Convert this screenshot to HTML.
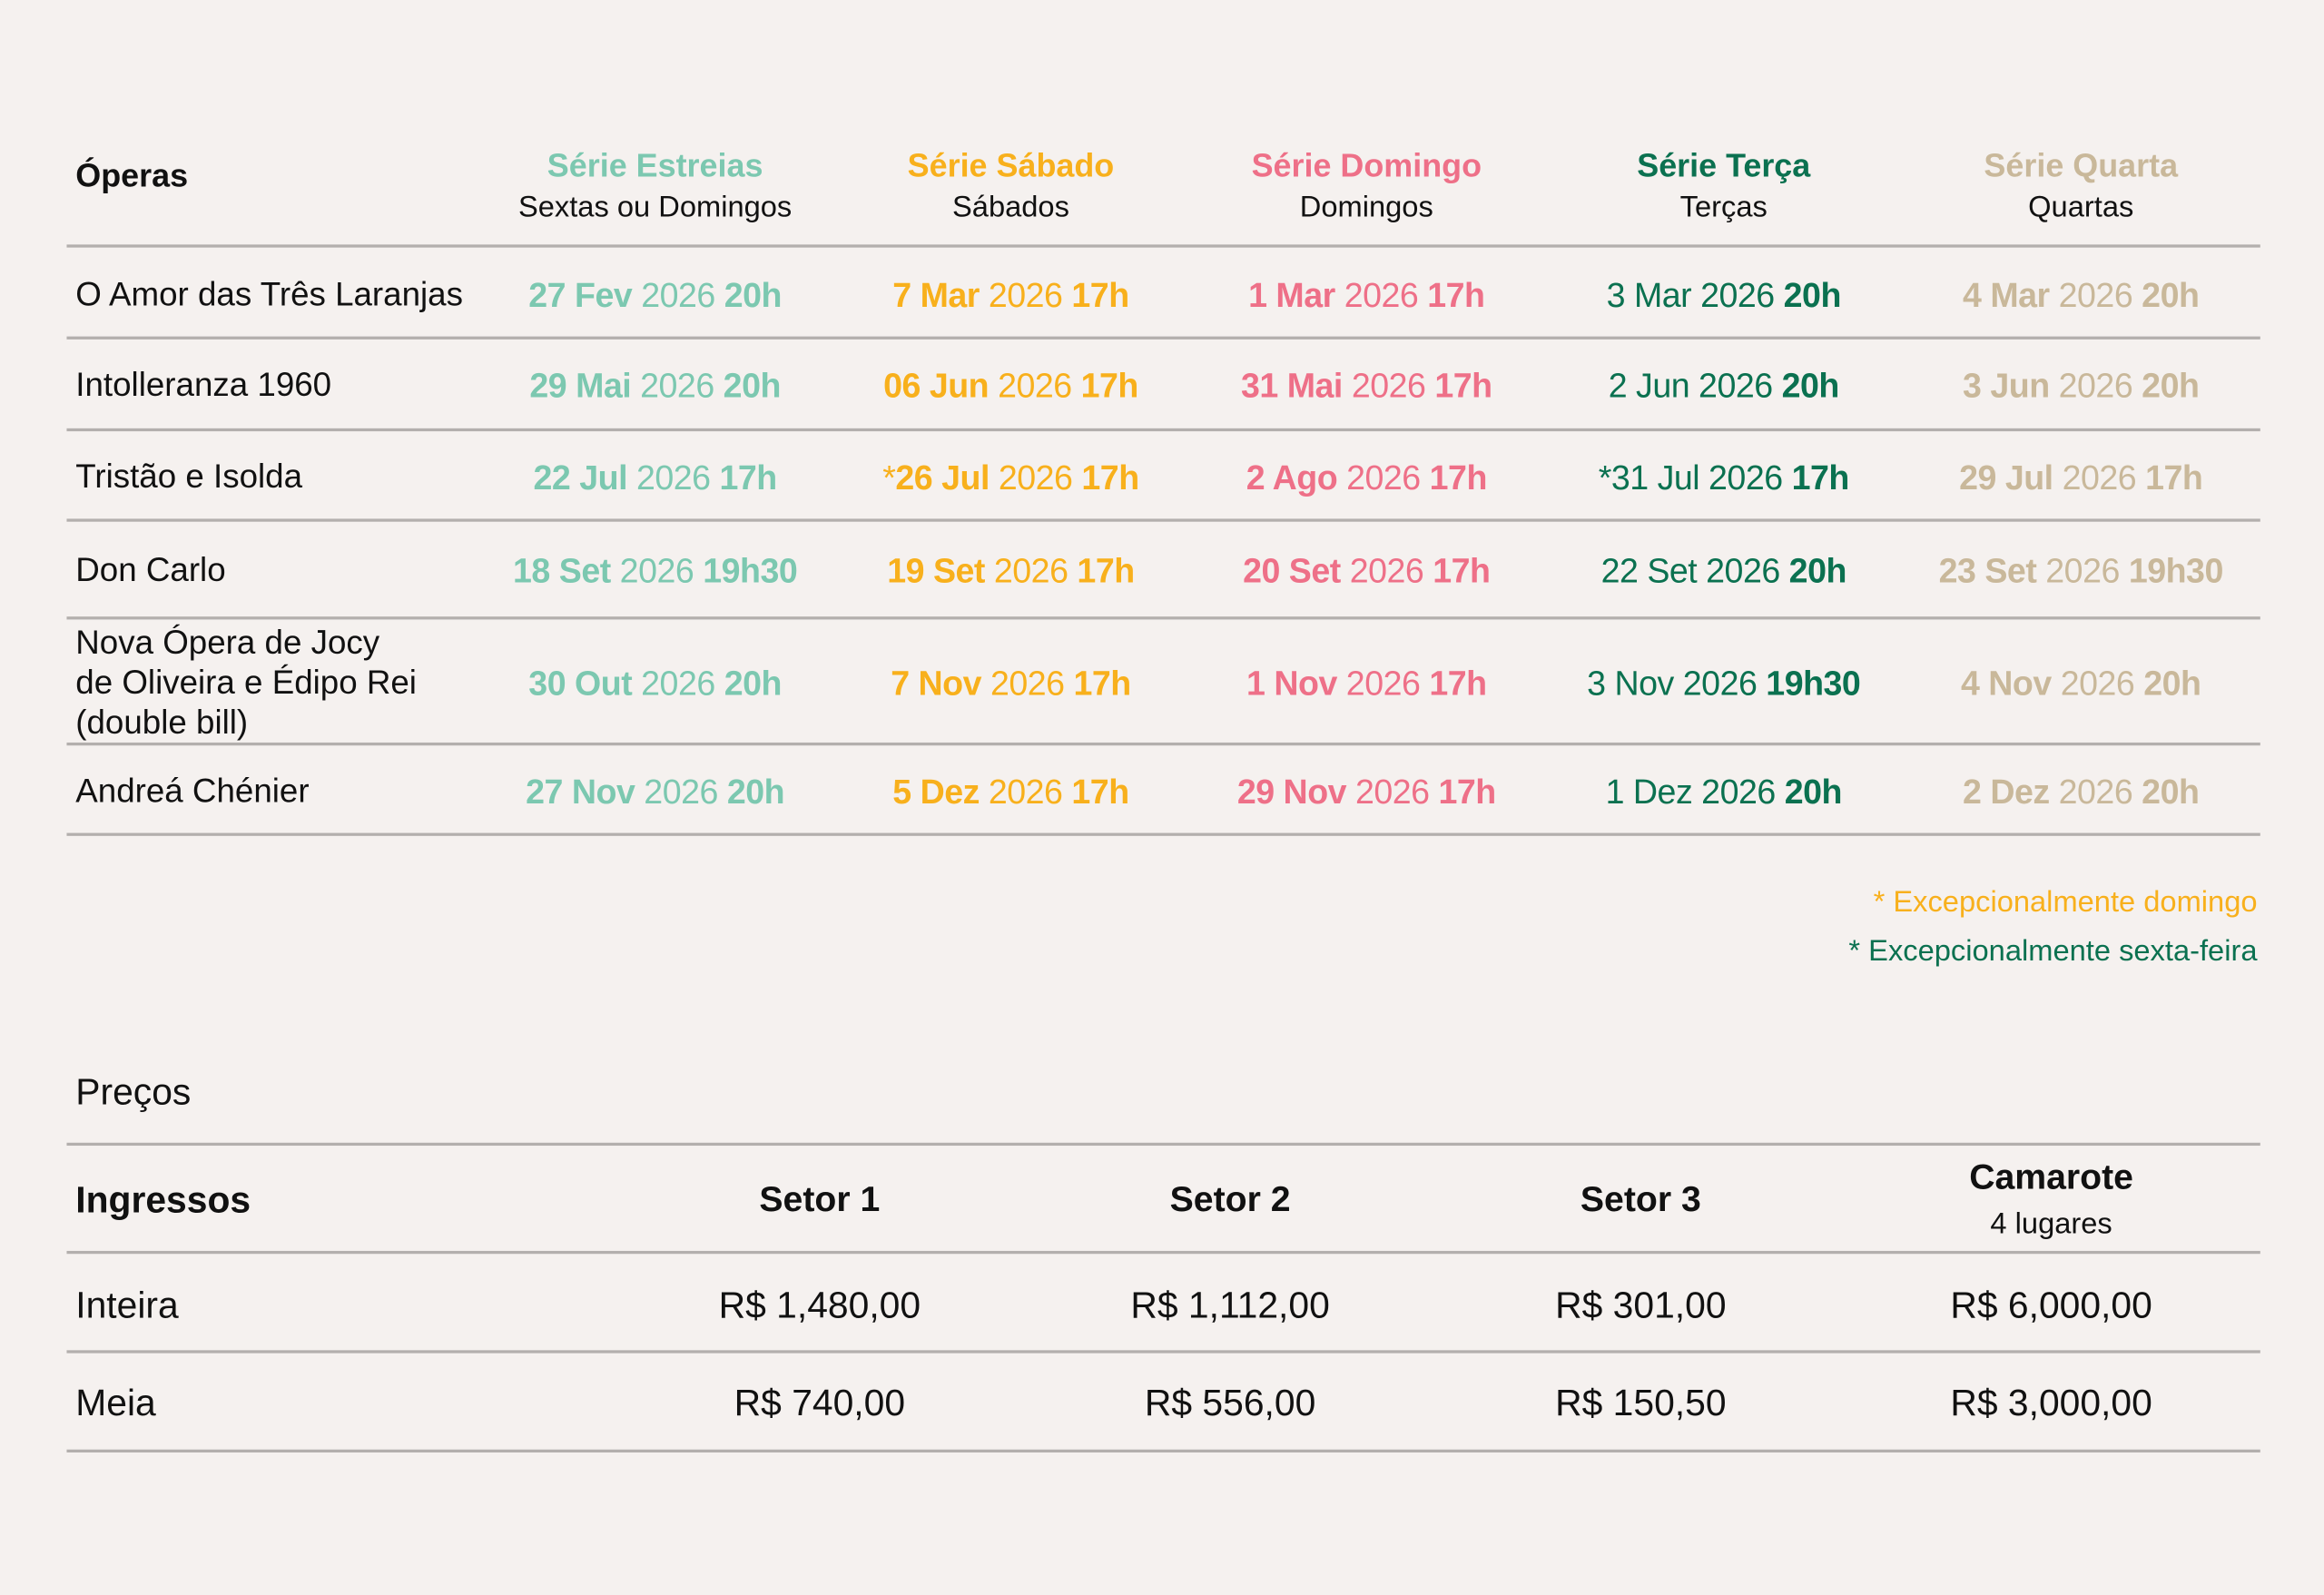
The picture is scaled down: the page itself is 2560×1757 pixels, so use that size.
<!DOCTYPE html>
<html><head><meta charset="utf-8">
<style>
html,body{margin:0;padding:0;background:#f5f1ef;}
body{width:2560px;height:1756px;overflow:hidden;position:relative;}
#w{position:absolute;left:0;top:0;width:1568px;height:1076px;transform:scale(1.63265);transform-origin:0 0;font-family:"Liberation Sans",sans-serif;color:#111;letter-spacing:0;}
.t{position:absolute;white-space:nowrap;line-height:26px;height:26px;}
.c{width:300px;text-align:center;}
.l{position:absolute;left:45px;width:1480px;height:1.5px;background:#b3afad;}
b{font-weight:bold;}
.te{color:#7cc8b0}.or{color:#f8b01c}.pk{color:#ee7088}.gr{color:#0b7150}.be{color:#c9b89a}
.d{font-size:23px;letter-spacing:-0.3px;}
.n{font-size:22.5px;}
</style></head><body><div id="w">
<div class="t" style="left:51px;top:106px;font-size:22px;font-weight:bold">Óperas</div>
<div class="t c te" style="left:292px;top:99px;font-size:22px;font-weight:bold">Série Estreias</div>
<div class="t c" style="left:292px;top:127px;font-size:20px">Sextas ou Domingos</div>
<div class="t c or" style="left:532px;top:99px;font-size:22px;font-weight:bold">Série Sábado</div>
<div class="t c" style="left:532px;top:127px;font-size:20px">Sábados</div>
<div class="t c pk" style="left:772px;top:99px;font-size:22px;font-weight:bold">Série Domingo</div>
<div class="t c" style="left:772px;top:127px;font-size:20px">Domingos</div>
<div class="t c gr" style="left:1013px;top:99px;font-size:22px;font-weight:bold">Série Terça</div>
<div class="t c" style="left:1013px;top:127px;font-size:20px">Terças</div>
<div class="t c be" style="left:1254px;top:99px;font-size:22px;font-weight:bold">Série Quarta</div>
<div class="t c" style="left:1254px;top:127px;font-size:20px">Quartas</div>

<div class="l" style="top:165px"></div>
<div class="l" style="top:227px"></div>
<div class="l" style="top:289px"></div>
<div class="l" style="top:350px"></div>
<div class="l" style="top:416px"></div>
<div class="l" style="top:501px"></div>
<div class="l" style="top:562px"></div>

<div class="t n" style="left:51px;top:186px">O Amor das Três Laranjas</div>
<div class="t c d te" style="left:292px;top:186px"><b>27 Fev</b> 2026 <b>20h</b></div>
<div class="t c d or" style="left:532px;top:186px"><b>7 Mar</b> 2026 <b>17h</b></div>
<div class="t c d pk" style="left:772px;top:186px"><b>1 Mar</b> 2026 <b>17h</b></div>
<div class="t c d gr" style="left:1013px;top:186px">3 Mar 2026 <b>20h</b></div>
<div class="t c d be" style="left:1254px;top:186px"><b>4 Mar</b> 2026 <b>20h</b></div>

<div class="t n" style="left:51px;top:247px">Intolleranza 1960</div>
<div class="t c d te" style="left:292px;top:247px"><b>29 Mai</b> 2026 <b>20h</b></div>
<div class="t c d or" style="left:532px;top:247px"><b>06 Jun</b> 2026 <b>17h</b></div>
<div class="t c d pk" style="left:772px;top:247px"><b>31 Mai</b> 2026 <b>17h</b></div>
<div class="t c d gr" style="left:1013px;top:247px">2 Jun 2026 <b>20h</b></div>
<div class="t c d be" style="left:1254px;top:247px"><b>3 Jun</b> 2026 <b>20h</b></div>

<div class="t n" style="left:51px;top:309px">Tristão e Isolda</div>
<div class="t c d te" style="left:292px;top:309px"><b>22 Jul</b> 2026 <b>17h</b></div>
<div class="t c d or" style="left:532px;top:309px">*<b>26 Jul</b> 2026 <b>17h</b></div>
<div class="t c d pk" style="left:772px;top:309px"><b>2 Ago</b> 2026 <b>17h</b></div>
<div class="t c d gr" style="left:1013px;top:309px">*31 Jul 2026 <b>17h</b></div>
<div class="t c d be" style="left:1254px;top:309px"><b>29 Jul</b> 2026 <b>17h</b></div>

<div class="t n" style="left:51px;top:372px">Don Carlo</div>
<div class="t c d te" style="left:292px;top:372px"><b>18 Set</b> 2026 <b>19h30</b></div>
<div class="t c d or" style="left:532px;top:372px"><b>19 Set</b> 2026 <b>17h</b></div>
<div class="t c d pk" style="left:772px;top:372px"><b>20 Set</b> 2026 <b>17h</b></div>
<div class="t c d gr" style="left:1013px;top:372px">22 Set 2026 <b>20h</b></div>
<div class="t c d be" style="left:1254px;top:372px"><b>23 Set</b> 2026 <b>19h30</b></div>

<div class="t n" style="left:51px;top:421px">Nova Ópera de Jocy</div>
<div class="t n" style="left:51px;top:448px">de Oliveira e Édipo Rei</div>
<div class="t n" style="left:51px;top:475px">(double bill)</div>
<div class="t c d te" style="left:292px;top:448px"><b>30 Out</b> 2026 <b>20h</b></div>
<div class="t c d or" style="left:532px;top:448px"><b>7 Nov</b> 2026 <b>17h</b></div>
<div class="t c d pk" style="left:772px;top:448px"><b>1 Nov</b> 2026 <b>17h</b></div>
<div class="t c d gr" style="left:1013px;top:448px">3 Nov 2026 <b>19h30</b></div>
<div class="t c d be" style="left:1254px;top:448px"><b>4 Nov</b> 2026 <b>20h</b></div>

<div class="t n" style="left:51px;top:521px">Andreá Chénier</div>
<div class="t c d te" style="left:292px;top:521px"><b>27 Nov</b> 2026 <b>20h</b></div>
<div class="t c d or" style="left:532px;top:521px"><b>5 Dez</b> 2026 <b>17h</b></div>
<div class="t c d pk" style="left:772px;top:521px"><b>29 Nov</b> 2026 <b>17h</b></div>
<div class="t c d gr" style="left:1013px;top:521px">1 Dez 2026 <b>20h</b></div>
<div class="t c d be" style="left:1254px;top:521px"><b>2 Dez</b> 2026 <b>20h</b></div>

<div class="t or" style="right:45px;top:596px;font-size:20px">* Excepcionalmente domingo</div>
<div class="t gr" style="right:45px;top:629px;font-size:20px">* Excepcionalmente sexta-feira</div>

<div class="t" style="left:51px;top:724px;font-size:25px">Preços</div>
<div class="l" style="top:771px"></div>
<div class="t" style="left:51px;top:797px;font-size:25px;font-weight:bold">Ingressos</div>
<div class="t c" style="left:403px;top:797px;font-size:24px;font-weight:bold">Setor 1</div>
<div class="t c" style="left:680px;top:797px;font-size:24px;font-weight:bold">Setor 2</div>
<div class="t c" style="left:957px;top:797px;font-size:24px;font-weight:bold">Setor 3</div>
<div class="t c" style="left:1234px;top:782px;font-size:24px;font-weight:bold">Camarote</div>
<div class="t c" style="left:1234px;top:813px;font-size:20px">4 lugares</div>
<div class="l" style="top:844px"></div>
<div class="t" style="left:51px;top:868px;font-size:25px">Inteira</div>
<div class="t c" style="left:403px;top:868px;font-size:25px">R$ 1,480,00</div>
<div class="t c" style="left:680px;top:868px;font-size:25px">R$ 1,112,00</div>
<div class="t c" style="left:957px;top:868px;font-size:25px">R$ 301,00</div>
<div class="t c" style="left:1234px;top:868px;font-size:25px">R$ 6,000,00</div>
<div class="l" style="top:911px"></div>
<div class="t" style="left:51px;top:934px;font-size:25px">Meia</div>
<div class="t c" style="left:403px;top:934px;font-size:25px">R$ 740,00</div>
<div class="t c" style="left:680px;top:934px;font-size:25px">R$ 556,00</div>
<div class="t c" style="left:957px;top:934px;font-size:25px">R$ 150,50</div>
<div class="t c" style="left:1234px;top:934px;font-size:25px">R$ 3,000,00</div>
<div class="l" style="top:978px"></div>
</div></body></html>
